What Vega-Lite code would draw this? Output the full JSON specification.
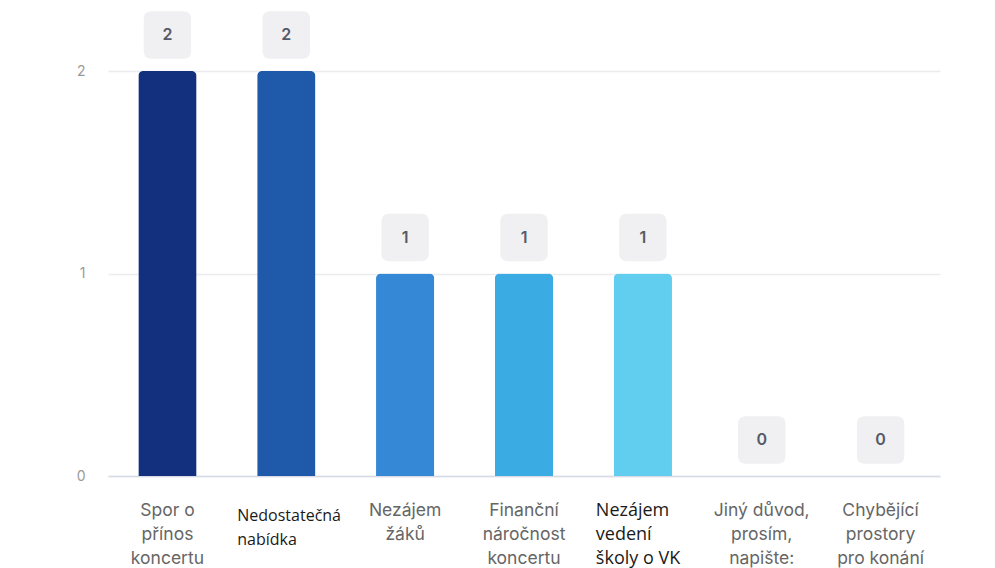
{
  "$schema": "https://vega.github.io/schema/vega-lite/v6.json",
  "width": 832,
  "height": 405,
  "autosize": {"type": "none"},
  "padding": {"left": 108, "top": 71, "right": 55, "bottom": 92},
  "background": "white",
  "config": {"view": {"stroke": null}, "font": "Inter"},
  "data": {
    "values": [
      {"reason": "Spor o|přínos|koncertu", "count": 2},
      {"reason": "Nedostatečná|nabídka", "count": 2},
      {"reason": "Nezájem|žáků", "count": 1},
      {"reason": "Finanční|náročnost|koncertu", "count": 1},
      {"reason": "Nezájem|vedení|školy o VK", "count": 1},
      {"reason": "Jiný důvod,|prosím,|napište:", "count": 0},
      {"reason": "Chybějící|prostory|pro konání", "count": 0}
    ]
  },
  "encoding": {
    "x": {
      "field": "reason",
      "type": "nominal",
      "sort": null,
      "scale": {"paddingInner": 0.51, "paddingOuter": 0.255},
      "axis": {
        "title": null,
        "labelAngle": 0,
        "labelExpr": "split(datum.value, '|')",
        "labelLineHeight": 24,
        "labelPadding": {"condition": {"test": "indexof(datum.value,'Nedostat') >= 0", "value": 31}, "value": 25},
        "labelBaseline": "top",
        "ticks": false,
        "domain": true,
        "domainColor": "#d8dae8",
        "domainWidth": 1.5,
        "labelFont": {"condition": {"test": "indexof(datum.value,'Nedostat') >= 0 || indexof(datum.value,'vedení') >= 0", "value": "Open Sans"}, "value": "Inter"},
        "labelFontSize": {"condition": [
          {"test": "indexof(datum.value,'Nedostat') >= 0", "value": 16},
          {"test": "indexof(datum.value,'vedení') >= 0", "value": 18}
        ], "value": 17.5},
        "labelColor": {"condition": {"test": "indexof(datum.value,'Nedostat') >= 0 || indexof(datum.value,'vedení') >= 0", "value": "#1a1a1a"}, "value": "#666666"},
        "labelAlign": {"condition": {"test": "indexof(datum.value,'Nedostat') >= 0 || indexof(datum.value,'vedení') >= 0", "value": "left"}, "value": "center"},
        "labelOffset": {"condition": [
          {"test": "indexof(datum.value,'Nedostat') >= 0", "value": -49},
          {"test": "indexof(datum.value,'vedení') >= 0", "value": -47}
        ], "value": 0},
        "labelOverlap": false,
        "labelBound": false
      }
    },
    "y": {
      "field": "count",
      "type": "quantitative",
      "scale": {"domain": [0, 2], "nice": false},
      "axis": {
        "title": null,
        "tickCount": 2,
        "tickMinStep": 1,
        "format": "d",
        "domain": false,
        "ticks": false,
        "labelPadding": 23,
        "labelColor": "#9a9a9a",
        "labelFontSize": 14,
        "labelFont": "Inter",
        "labelOverlap": false,
        "labelFlush": false,
        "gridColor": "#ececf0",
        "gridWidth": 1.5
      }
    }
  },
  "layer": [
    {
      "mark": {"type": "bar", "cornerRadiusTopLeft": 5, "cornerRadiusTopRight": 5},
      "encoding": {
        "color": {
          "field": "reason",
          "type": "nominal",
          "sort": null,
          "legend": null,
          "scale": {"range": ["#12307e", "#1e5aa9", "#3588d5", "#3aace3", "#61ceef", "#61ceef", "#61ceef"]}
        }
      }
    },
    {
      "mark": {
        "type": "point",
        "shape": "M -0.67 -1 L 0.67 -1 Q 1 -1 1 -0.67 L 1 0.67 Q 1 1 0.67 1 L -0.67 1 Q -1 1 -1 0.67 L -1 -0.67 Q -1 -1 -0.67 -1 Z",
        "filled": true,
        "color": "#f0f0f2",
        "opacity": 1,
        "size": 2250,
        "yOffset": -36
      }
    },
    {
      "mark": {
        "type": "text",
        "fontSize": 16,
        "fontWeight": 600,
        "color": "#555a68",
        "baseline": "middle",
        "dy": -36
      },
      "encoding": {
        "text": {"field": "count", "type": "quantitative"}
      }
    }
  ]
}
